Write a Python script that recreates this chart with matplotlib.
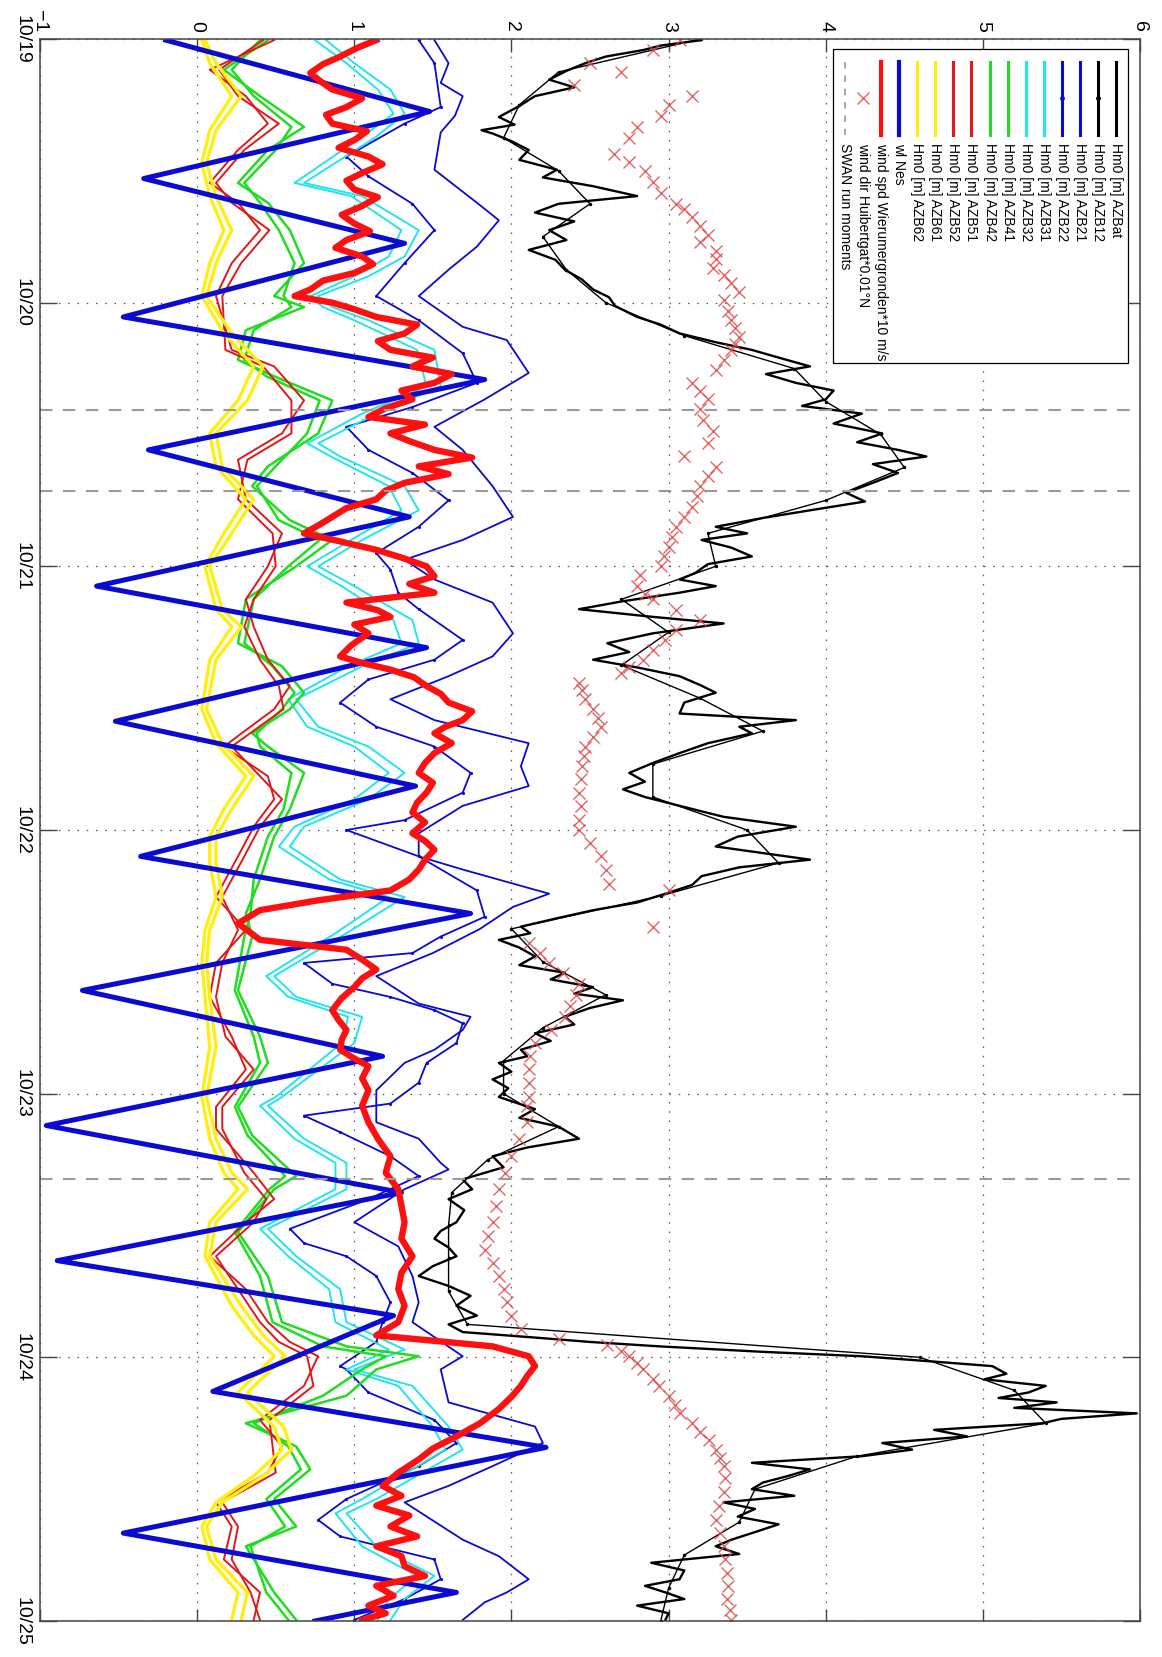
import numpy as np
import matplotlib.pyplot as plt
from matplotlib.patches import Rectangle

plt.rcParams['font.family'] = ['Liberation Sans', 'DejaVu Sans']

# time is in hours after 10/19 00:00, plotted in days; the chart is drawn rotated
date_labels = ['10/19', '10/20', '10/21', '10/22', '10/23', '10/24', '10/25']
value_ticks = [-1, 0, 1, 2, 3, 4, 5, 6]
value_labels = ['\u22121', '0', '1', '2', '3', '4', '5', '6']

swan_hours = [33.8, 41.1, 103.8]

# Hm0 [m] AZBat
azbat_h = [0.1, 0.6, 1.0, 1.6, 2.2, 2.9, 3.7, 4.4, 5.2, 6.1, 7.1, 7.8, 8.3, 8.6, 9.3, 10.1, 11.0, 11.9, 12.6, 13.4,
           14.3, 15.0, 15.8, 16.6, 17.4, 18.3, 19.2, 20.1, 21.0, 21.9, 22.8, 23.5, 24.3,
           25.3, 26.0, 26.8, 27.6, 28.3, 29.0, 29.8, 30.5, 31.3, 32.0, 32.8, 33.4, 34.1, 35.0, 35.9, 36.7, 37.4,
           38.0, 38.7, 39.5, 40.4, 41.3, 42.1, 42.9, 43.6, 44.4, 45.0, 45.6, 46.3, 47.1, 47.8,
           48.6, 49.2, 49.8, 50.4, 51.2, 51.9, 52.6, 53.2, 54.1, 55.0, 55.8, 56.5, 57.2, 58.0, 58.8, 59.5, 60.4,
           61.4, 62.0, 62.6, 63.2, 64.1, 65.0, 65.9, 66.8, 67.6, 68.3, 69.0, 69.8, 70.8, 71.7,
           72.6, 73.5, 74.1, 74.7, 75.4, 76.2, 77.0, 77.8, 78.6, 79.3, 80.0, 80.8, 81.4, 82.0, 82.7, 83.5, 84.3,
           85.0, 85.6, 86.3, 86.9, 87.5, 88.2, 89.0, 89.7, 90.5, 91.2, 92.0, 92.6, 93.2, 94.0, 94.7, 95.5, 96.3,
           97.4, 98.2, 99.0, 100.1, 100.9, 101.7, 102.7, 103.8, 104.7, 105.6, 106.6, 107.7, 108.5, 109.2, 110.0,
           110.8, 111.7, 112.6, 113.5, 114.4, 115.3, 116.2, 117.0, 117.7, 118.2, 118.6, 119.0, 119.5, 119.9,
           120.4, 120.8,
           121.5, 122.0, 122.6, 123.2, 123.7, 124.1, 124.6, 125.1, 125.6, 126.0, 126.6, 127.2, 127.8, 128.4,
           129.0, 129.6, 130.2, 130.8, 131.4, 132.0, 132.6, 133.2, 133.8, 134.5, 135.2, 136.0, 136.6, 137.2,
           137.9, 138.7, 139.4, 140.2, 140.8, 141.4, 142.0, 142.6, 143.3, 143.9]
azbat = [3.21, 2.95, 2.84, 2.60, 2.47, 2.35, 2.24, 2.40, 2.15, 2.05, 1.92, 2.02, 1.81, 1.88, 2.00, 2.11, 2.05, 2.29,
         2.20, 2.52, 2.80, 2.30, 2.15, 2.40, 2.24, 2.35, 2.11, 2.28, 2.34, 2.45, 2.52, 2.62, 2.66,
         2.80, 2.95, 3.07, 3.30, 3.53, 3.70, 3.90, 3.62, 3.81, 4.05, 4.00, 3.85, 4.23, 4.05, 4.36, 4.20, 4.46,
         4.64, 4.30, 4.46, 4.30, 4.13, 4.25, 3.90, 3.60, 3.30, 3.50, 3.21, 3.40, 3.53, 3.25,
         3.17, 3.07, 3.30, 3.07, 2.70, 2.43, 2.90, 3.35, 2.90, 2.61, 2.75, 2.52, 2.80, 3.07, 3.20, 3.30, 3.10,
         3.07, 3.81, 3.45, 3.53, 3.25, 3.07, 2.90, 2.75, 2.85, 2.71, 2.85, 3.07, 3.35, 3.81,
         3.44, 3.30, 3.60, 3.90, 3.45, 3.21, 3.15, 2.98, 2.80, 2.52, 2.30, 2.06, 2.12, 1.92, 2.05, 2.15, 2.05,
         2.34, 2.25, 2.52, 2.40, 2.71, 2.50, 2.34, 2.40, 2.15, 2.25, 2.06, 2.10, 1.92, 2.00, 1.88, 1.98, 1.92,
         2.15, 2.05, 2.30, 2.43, 2.10, 1.88, 1.95, 1.69, 1.75, 1.60, 1.70, 1.65, 1.55, 1.51, 1.60,
         1.65, 1.50, 1.41, 1.60, 1.74, 1.65, 1.78, 1.60, 1.69, 2.15, 2.50, 2.94, 3.60, 4.23,
         4.70, 5.06,
         5.15, 5.01, 5.40, 5.29, 5.10, 5.47, 5.20, 5.98, 5.50, 5.38, 4.69, 4.90, 4.36, 4.55,
         4.23, 3.53, 3.90, 3.76, 3.60, 3.53, 3.80, 3.35, 3.55, 3.44, 3.70, 3.53, 3.40, 3.30,
         3.45, 2.89, 3.10, 3.07, 2.85, 2.98, 3.10, 2.80, 3.00, 2.98]

# Hm0 [m] AZB12
azb12_h = list(range(0, 145, 3))
azb12 = [3.20, 2.30, 2.05, 1.95, 2.30, 2.50, 2.20, 2.35, 2.60, 3.10, 3.80, 4.00, 4.35, 4.50, 4.00, 3.25, 3.30,
         2.70, 3.00, 2.70, 3.20, 3.60, 2.90, 2.90, 3.50, 3.70, 2.95, 2.00, 2.20, 2.60, 2.20, 1.95, 1.95, 2.30,
         1.85, 1.62, 1.60, 1.60, 1.60, 1.72, 4.60, 5.20, 5.40, 4.20, 3.55, 3.45, 3.10, 3.00, 2.95]

# Hm0 [m] AZB21
azb21_h = [0.1, 2.2, 4.0, 5.2, 7.0, 8.5, 11.9, 14.9, 16.5, 18.9, 21.0, 23.4,
           26.2, 27.4, 30.4, 32.8, 35.3, 37.4, 40.7, 43.5, 45.6, 47.4,
           49.2, 51.3, 54.1, 56.2, 58.0, 60.1, 62.0, 64.1, 66.2, 68.0, 69.8, 72.3,
           74.4, 75.6, 77.8, 79.0, 81.0, 83.2, 85.3, 87.8, 89.0, 90.2, 92.0, 93.2, 95.7,
           98.6, 100.1, 102.3, 102.9, 104.7, 107.7, 109.9, 112.6, 115.0, 116.8, 119.9,
           121.1, 124.1, 126.3, 127.8, 129.9, 131.7, 133.2, 136.6, 138.1, 140.2, 141.4, 142.3, 143.9]
azb21 = [1.51, 1.60, 1.55, 1.69, 1.64, 1.55, 1.51, 1.78, 1.92, 1.78, 1.60, 1.41,
         1.69, 1.97, 2.11, 1.83, 1.51, 1.69, 1.88, 2.01, 1.69, 1.32,
         1.51, 1.88, 2.01, 1.88, 1.60, 1.23, 1.51, 2.11, 2.06, 2.11, 1.69, 1.41,
         1.41, 1.69, 2.24, 2.01, 1.80, 1.50, 1.14, 1.41, 1.74, 1.69, 1.51, 1.32, 1.14,
         1.14, 1.41, 1.55, 1.60, 1.32, 1.00, 1.28, 1.37, 1.41, 1.37, 1.69,
         1.55, 1.60, 2.15, 2.20, 1.88, 1.60, 1.32, 1.69, 1.92, 2.11, 1.97, 1.83, 1.69]

# Hm0 [m] AZB22
azb22_h = [0.1, 2.2, 6.2, 7.7, 10.7, 12.5, 15.0, 17.4, 20.4, 23.4,
           25.6, 28.6, 31.3, 33.5, 35.3, 37.4, 39.5, 42.0, 44.4, 46.8,
           48.3, 50.4, 51.9, 54.7, 56.5, 58.3, 60.4, 62.6, 64.4, 66.8, 68.6, 71.1,
           72.0, 74.4, 77.5, 79.9, 81.7, 83.2, 84.1, 86.0, 87.2, 88.4, 89.6, 91.4, 93.2, 95.0, 96.9,
           98.0, 99.5, 101.7, 103.5, 105.6, 108.3, 109.6, 110.8, 112.6, 115.0, 116.8, 118.6, 120.8,
           121.1, 123.2, 125.7, 127.8, 129.9, 132.9, 134.8, 136.3, 138.4, 140.2, 142.0, 143.9]
azb22 = [1.41, 1.51, 1.55, 1.32, 0.95, 1.09, 1.37, 1.51, 1.32, 1.14,
         1.41, 1.69, 1.78, 1.37, 0.95, 1.09, 1.37, 1.60, 1.41, 1.14,
         1.23, 1.28, 1.41, 1.69, 1.51, 1.09, 0.91, 1.14, 1.51, 1.74, 1.69, 1.32,
         0.95, 1.41, 1.78, 1.83, 1.55, 1.37, 0.68, 0.86, 1.23, 1.51, 1.69, 1.65, 1.46, 1.41, 1.23,
         0.68, 0.91, 1.23, 1.41, 1.09, 0.59, 0.68, 0.95, 1.14, 1.23, 1.18, 1.14, 0.91,
         0.95, 1.09, 1.51, 1.65, 1.41, 0.95, 0.77, 0.91, 1.51, 1.55, 1.32, 1.00]

# Hm0 [m] AZB31 / AZB32
cyan_h = [0.1, 2.2, 4.6, 6.8, 8.9, 13.1, 14.3, 17.4, 19.8, 21.6, 23.4,
          24.4, 25.6, 28.3, 31.6, 34.1, 36.8, 38.0, 40.7, 42.9, 45.6, 48.0,
          49.8, 52.9, 55.0, 57.1, 60.1, 62.6, 64.4, 66.8, 69.2, 71.7,
          73.5, 76.5, 78.1, 81.4, 85.3, 87.2, 89.0, 91.4, 96.3,
          97.1, 100.1, 102.3, 104.7, 108.3, 110.8, 113.8, 116.8, 119.3,
          121.1, 122.6, 126.3, 128.4, 132.9, 134.2, 137.2, 139.9, 142.0, 143.9]
azb31 = [0.82, 1.00, 1.23, 1.32, 1.14, 0.68, 1.05, 1.41, 1.32, 1.09, 0.77,
         0.86, 1.09, 1.51, 1.55, 1.14, 0.77, 0.91, 1.32, 1.41, 1.05, 0.77,
         1.00, 1.37, 1.41, 1.05, 0.63, 0.77, 1.09, 1.32, 1.09, 0.68,
         0.59, 0.91, 1.32, 0.95, 0.49, 0.63, 1.05, 1.00, 0.54,
         0.45, 0.68, 0.95, 0.95, 0.45, 0.63, 0.91, 0.95, 1.32,
         1.00, 1.37, 1.60, 1.69, 1.14, 0.95, 1.14, 1.51, 1.32, 1.23]
azb32 = [0.75, 0.95, 1.15, 1.25, 1.05, 0.62, 0.98, 1.30, 1.22, 1.00, 0.72,
         0.80, 1.00, 1.40, 1.46, 1.05, 0.70, 0.85, 1.22, 1.30, 0.98, 0.70,
         0.92, 1.25, 1.30, 0.96, 0.58, 0.70, 1.00, 1.22, 1.00, 0.62,
         0.52, 0.84, 1.22, 0.88, 0.44, 0.58, 0.96, 0.92, 0.50,
         0.40, 0.62, 0.88, 0.88, 0.40, 0.58, 0.84, 0.88, 1.22,
         0.95, 1.28, 1.50, 1.58, 1.05, 0.88, 1.05, 1.40, 1.22, 1.15]

# Hm0 [m] AZB41 / AZB42
green_h = [0.1, 2.8, 5.2, 8.0, 10.1, 13.1, 14.9, 17.4, 20.4, 23.4,
           24.4, 26.5, 29.2, 30.7, 32.9, 35.9, 38.9, 40.7, 43.8, 45.6,
           48.0, 51.0, 55.0, 57.1, 59.5, 61.0, 63.2, 64.4, 66.8, 70.1, 72.6,
           76.5, 79.6, 81.7, 86.6, 90.8, 93.2, 97.2,
           99.8, 103.5, 104.7, 108.6, 112.6, 116.8, 119.0, 119.9,
           121.1, 123.5, 126.0, 128.1, 130.2, 132.9, 135.4, 137.2, 141.4, 143.9]
azb41 = [0.45, 0.17, 0.40, 0.68, 0.45, 0.26, 0.45, 0.59, 0.68, 0.49,
         0.68, 0.31, 0.26, 0.49, 0.86, 0.77, 0.45, 0.35, 0.59, 0.86,
         0.63, 0.31, 0.26, 0.54, 0.68, 0.59, 0.35, 0.45, 0.68, 0.59, 0.49,
         0.40, 0.31, 0.35, 0.26, 0.40, 0.45, 0.26,
         0.35, 0.63, 0.49, 0.26, 0.45, 0.54, 0.95, 1.41,
         1.14, 0.95, 0.31, 0.63, 0.72, 0.49, 0.63, 0.31, 0.49, 0.63]
azb42 = [0.40, 0.22, 0.36, 0.60, 0.50, 0.30, 0.40, 0.52, 0.62, 0.55,
         0.60, 0.36, 0.30, 0.44, 0.78, 0.70, 0.50, 0.38, 0.52, 0.78,
         0.58, 0.36, 0.30, 0.48, 0.62, 0.54, 0.38, 0.40, 0.60, 0.55, 0.45,
         0.36, 0.34, 0.30, 0.24, 0.36, 0.40, 0.24,
         0.32, 0.56, 0.46, 0.24, 0.40, 0.48, 0.80, 1.20,
         1.05, 0.80, 0.36, 0.58, 0.66, 0.44, 0.56, 0.34, 0.44, 0.58]

# Hm0 [m] AZB51 / AZB52
red_h = [0.1, 2.8, 5.2, 7.7, 10.1, 13.1, 14.9, 17.4, 20.4, 23.4,
         28.3, 29.8, 32.9, 35.9, 38.3, 41.9, 45.0, 48.0,
         51.0, 53.5, 56.5, 58.9, 61.0, 64.4, 67.1, 69.2, 71.7,
         74.4, 78.1, 81.1, 84.1, 87.2, 90.8, 93.8, 97.2,
         99.2, 103.2, 105.6, 107.7, 110.8, 113.8, 116.8, 118.6, 119.9,
         122.6, 125.7, 128.1, 130.5, 133.2, 135.4, 138.4, 141.4, 143.9]
azb51 = [0.49, 0.08, 0.31, 0.45, 0.26, 0.08, 0.26, 0.40, 0.22, 0.12,
         0.22, 0.49, 0.68, 0.54, 0.26, 0.31, 0.54, 0.45,
         0.31, 0.36, 0.45, 0.59, 0.49, 0.17, 0.45, 0.49, 0.36,
         0.26, 0.12, 0.31, 0.12, 0.08, 0.22, 0.31, 0.12,
         0.12, 0.36, 0.49, 0.31, 0.08, 0.31, 0.45, 0.59, 0.77,
         0.68, 0.40, 0.54, 0.45, 0.12, 0.22, 0.17, 0.40, 0.36]
azb52 = [0.42, 0.14, 0.26, 0.52, 0.30, 0.12, 0.22, 0.46, 0.28, 0.16,
         0.18, 0.42, 0.60, 0.60, 0.32, 0.26, 0.48, 0.50,
         0.36, 0.30, 0.40, 0.52, 0.55, 0.22, 0.40, 0.54, 0.40,
         0.30, 0.16, 0.26, 0.16, 0.12, 0.18, 0.36, 0.16,
         0.16, 0.30, 0.44, 0.36, 0.12, 0.26, 0.40, 0.52, 0.70,
         0.74, 0.46, 0.48, 0.50, 0.16, 0.26, 0.22, 0.34, 0.40]

# Hm0 [m] AZB61 / AZB62
yellow_h = [0.1, 2.2, 5.2, 8.3, 11.3, 14.3, 17.4, 20.4, 23.4,
            26.8, 29.8, 32.9, 35.9, 38.9, 41.9, 45.0, 48.0,
            51.9, 53.5, 56.5, 61.0, 64.1, 67.1, 70.1, 72.6,
            75.0, 78.1, 81.1, 84.1, 87.2, 91.7, 96.3,
            100.1, 103.2, 104.7, 107.7, 110.8, 115.3, 118.0, 119.9,
            123.2, 126.3, 128.4, 130.8, 133.2, 135.4, 138.4, 141.4, 143.9]
azb61 = [0.03, 0.08, 0.22, 0.08, 0.03, 0.08, 0.17, 0.08, 0.03,
         0.17, 0.36, 0.26, 0.08, 0.12, 0.31, 0.17, 0.05,
         0.12, 0.22, 0.08, 0.03, 0.12, 0.31, 0.17, 0.08,
         0.08, 0.12, 0.05, 0.03, 0.05, 0.08, 0.03,
         0.08, 0.17, 0.26, 0.08, 0.05, 0.22, 0.36, 0.49,
         0.26, 0.49, 0.54, 0.36, 0.12, 0.03, 0.08, 0.26, 0.22]
azb62 = [0.05, 0.12, 0.28, 0.12, 0.06, 0.12, 0.22, 0.12, 0.06,
         0.22, 0.42, 0.32, 0.12, 0.16, 0.36, 0.22, 0.08,
         0.16, 0.28, 0.12, 0.06, 0.16, 0.36, 0.22, 0.12,
         0.12, 0.16, 0.08, 0.06, 0.08, 0.12, 0.06,
         0.12, 0.22, 0.32, 0.12, 0.08, 0.28, 0.42, 0.56,
         0.32, 0.55, 0.60, 0.42, 0.16, 0.06, 0.12, 0.32, 0.28]

# wl Nes
wl_nes_h = [0.1, 6.6, 12.7, 18.6, 25.3, 31.0, 37.4, 43.5, 49.8, 55.4, 62.1, 68.0, 74.4, 79.6,
            86.6, 92.6, 98.9, 105.0, 111.2, 116.2, 123.1, 128.2, 136.0, 141.4, 144.0]
wl_nes = [-0.20, 1.48, -0.34, 1.32, -0.47, 1.83, -0.31, 1.35, -0.64, 1.46, -0.52, 1.39, -0.36, 1.74,
          -0.73, 1.18, -0.96, 1.30, -0.89, 1.25, 0.10, 2.22, -0.47, 1.65, 0.75]

# wind spd Wierumergronden
wind_spd_h = [0.1, 0.8, 1.6, 2.3, 3.1, 3.8, 4.6, 5.4, 6.2, 6.9, 7.7, 8.4, 9.2, 9.9, 10.7, 11.4, 12.2, 12.9, 13.7,
              14.4, 15.2, 16.0, 16.8, 17.5, 18.3, 19.0, 19.8, 20.5, 21.3, 22.0, 22.8, 23.4, 24.0,
              24.6, 25.3, 26.0, 26.8, 27.5, 28.3, 29.0, 29.8, 30.5, 31.3, 32.0, 32.8, 33.6, 34.4, 35.1, 35.9,
              36.6, 37.4, 38.1, 38.9, 39.6, 40.4, 41.1, 41.9, 42.7, 43.5, 44.2, 45.0, 45.7, 46.5, 47.2, 48.0,
              48.9, 49.6, 50.4, 51.3, 52.0, 52.6, 53.3, 54.1, 55.2, 56.2, 56.8, 57.4, 58.1, 58.9, 59.6, 60.4,
              61.2, 62.0, 62.6, 63.2, 64.1, 65.0, 65.9, 66.8, 67.7, 68.6, 69.5, 70.4, 71.3, 72.3,
              73.0, 73.8, 74.7, 75.6, 76.5, 77.5, 78.4, 79.3, 80.5, 82.0, 82.9, 83.8, 84.7, 85.5, 86.3, 87.3,
              88.4, 89.3, 90.2, 91.1, 92.0, 92.8, 93.5, 94.6, 95.7,
              97.1, 98.6, 100.1, 101.7, 103.2, 104.7, 106.2, 107.7, 109.2, 110.8, 112.3, 113.8, 115.3, 116.8,
              118.0, 119.0, 119.9, 120.8,
              121.7, 122.6, 123.6, 124.7, 126.0, 127.2, 128.3, 129.3, 130.5, 131.7, 132.6, 133.5, 134.4, 135.4,
              136.3, 137.2, 138.1, 139.0, 139.9, 140.8, 141.7, 142.6, 143.3, 143.9]
wind_spd = [1.14, 1.02, 0.91, 0.80, 0.72, 0.78, 0.86, 1.05, 0.95, 0.82, 0.86, 1.08, 1.00, 0.90, 1.09, 1.18, 1.05,
            0.95, 1.00, 1.15, 1.05, 0.92, 1.00, 1.10, 0.95, 0.88, 1.05, 1.12, 1.00, 0.80, 0.72, 0.62, 0.86,
            1.00, 1.14, 1.40, 1.32, 1.15, 1.23, 1.50, 1.37, 1.62, 1.51, 1.30, 1.37, 1.20, 1.09, 1.45, 1.23,
            1.35, 1.51, 1.75, 1.41, 1.60, 1.32, 1.20, 1.14, 0.95, 0.86, 0.78, 0.68, 0.90, 1.14, 1.30, 1.46,
            1.51, 1.35, 1.51, 0.95, 1.15, 1.23, 1.00, 1.09, 0.98, 0.91, 1.05, 1.23, 1.38, 1.46, 1.55, 1.60,
            1.75, 1.69, 1.58, 1.51, 1.62, 1.51, 1.45, 1.41, 1.50, 1.46, 1.40, 1.37, 1.45, 1.37,
            1.45, 1.51, 1.45, 1.41, 1.35, 1.23, 0.77, 0.40, 0.26, 0.40, 0.95, 1.05, 1.14, 1.05, 1.00, 0.92,
            0.86, 0.90, 0.95, 0.92, 0.91, 1.00, 1.09, 1.05, 1.09,
            1.05, 1.09, 1.15, 1.23, 1.20, 1.28, 1.30, 1.32, 1.30, 1.37, 1.30, 1.28, 1.32, 1.28,
            1.14, 1.88, 2.11, 2.15,
            2.10, 2.06, 2.00, 1.92, 1.80, 1.65, 1.50, 1.41, 1.28, 1.18, 1.30, 1.14, 1.35, 1.23,
            1.40, 1.14, 1.30, 1.32, 1.45, 1.14, 1.25, 1.09, 1.20, 1.05]

# wind dir Huibertgat * 0.01 degN
wind_dir_h = [0.1, 1.0, 2.2, 3.0, 4.2, 5.2, 6.0, 7.0, 8.0, 9.0, 10.5, 11.2, 12.0, 13.0, 14.0, 15.0, 15.5, 16.2,
              17.0, 17.8, 18.5, 19.3, 20.0, 20.8, 21.5, 22.2, 23.0,
              23.8, 24.8, 25.6, 26.3, 27.1, 27.8, 28.3, 29.2, 30.1, 31.3, 32.0, 32.8, 33.7, 34.7, 35.7, 36.8,
              38.0, 39.0, 39.8, 40.7, 41.6, 42.6, 43.5, 44.4, 45.3, 46.2, 47.1, 48.0,
              48.8, 49.8, 50.5, 51.0, 52.0, 52.9, 53.8, 54.7, 55.6, 56.5, 57.2, 57.7, 58.6, 59.3, 60.1, 61.0,
              61.8, 62.6, 63.5, 64.4, 65.3, 66.2, 67.4, 68.6, 69.8, 71.1,
              72.0, 73.2, 74.4, 75.6, 76.9, 77.5, 80.8, 82.3, 83.2, 84.1, 85.0, 86.0, 87.0, 88.0, 89.0, 90.2,
              91.4, 92.6, 93.8, 95.0, 96.3,
              97.1, 98.6, 100.1, 101.7, 103.2, 104.7, 106.2, 107.7, 109.0, 110.2, 111.4, 112.6, 113.8, 115.0,
              116.2, 117.4, 118.3, 118.9, 119.4, 119.9, 120.5,
              121.1, 122.0, 122.6, 123.5, 124.3, 125.1, 126.0, 126.8, 127.5, 128.4, 129.2, 129.9, 131.0, 132.3,
              133.5, 134.8, 136.0, 137.2, 138.4, 139.6, 140.8, 142.0, 143.0, 143.9]
wind_dir = [3.07, 2.90, 2.50, 2.70, 2.40, 3.15, 3.00, 2.95, 2.80, 2.75, 2.65, 2.75, 2.85, 2.90, 2.95, 3.05, 3.10,
            3.15, 3.20, 3.25, 3.20, 3.30, 3.30, 3.28, 3.35, 3.40, 3.45,
            3.35, 3.38, 3.40, 3.42, 3.45, 3.42, 3.40, 3.35, 3.30, 3.15, 3.20, 3.25, 3.20, 3.22, 3.28, 3.25,
            3.10, 3.30, 3.25, 3.20, 3.18, 3.15, 3.10, 3.05, 3.02, 3.00, 2.97, 2.95,
            2.82, 2.80, 2.85, 2.90, 3.05, 3.20, 3.05, 2.98, 2.90, 2.84, 2.75, 2.70, 2.43, 2.45, 2.47, 2.52,
            2.55, 2.57, 2.52, 2.47, 2.46, 2.45, 2.44, 2.43, 2.44, 2.43,
            2.43, 2.50, 2.57, 2.60, 2.62, 3.00, 2.90, 2.11, 2.18, 2.24, 2.33, 2.43, 2.41, 2.37, 2.34, 2.25,
            2.15, 2.12, 2.11, 2.11, 2.11,
            2.10, 2.10, 2.05, 2.00, 1.96, 1.92, 1.90, 1.88, 1.85, 1.83, 1.88, 1.92, 1.95, 1.97,
            2.00, 2.06, 2.30, 2.61, 2.70, 2.75, 2.80,
            2.84, 2.90, 2.94, 3.00, 3.04, 3.07, 3.15, 3.20, 3.26, 3.30, 3.33, 3.35, 3.36, 3.35,
            3.32, 3.30, 3.33, 3.35, 3.36, 3.37, 3.38, 3.37, 3.39, 3.40]

BLUE = '#0a0ad0'
CYAN = '#20e4f0'
GREEN = '#20dd20'
RED = '#e01818'
YELLOW = '#ffee10'
XRED = '#e04848'

fig = plt.figure(figsize=(11.62, 16.57), dpi=100)
ax = fig.add_axes([40 / 1162, 36 / 1657, 1100 / 1162, 1582 / 1657])


def draw(hours, values, **kw):
    ax.plot(values, np.array(hours) / 24.0, **kw)


draw(azbat_h, azbat, color='black', lw=1.7)
draw(azb12_h, azb12, color='black', lw=1.0, marker='.', ms=3)
draw(azb21_h, azb21, color=BLUE, lw=1.3)
draw(azb22_h, azb22, color=BLUE, lw=1.3, marker='.', ms=2.5)
draw(cyan_h, azb31, color=CYAN, lw=1.4)
draw(cyan_h, azb32, color=CYAN, lw=1.4)
draw(green_h, azb41, color=GREEN, lw=1.8)
draw(green_h, azb42, color=GREEN, lw=1.8)
draw(red_h, azb51, color=RED, lw=1.4)
draw(red_h, azb52, color=RED, lw=1.4)
draw(yellow_h, azb61, color=YELLOW, lw=2.4)
draw(yellow_h, azb62, color=YELLOW, lw=2.4)
draw(wl_nes_h, wl_nes, color=BLUE, lw=3.6)
draw(wind_spd_h, wind_spd, color='#ff1010', lw=4.6)
draw(wind_dir_h, wind_dir, color=XRED, ls='none', marker='x', ms=8, mew=1.0, alpha=0.85)
for h in swan_hours:
    ax.axhline(h / 24.0, color='#9a9a9a', lw=1.5, dashes=(6, 5))

ax.set_xlim(-1, 6)
ax.set_ylim(6, 0)
ax.set_xticks(value_ticks)
ax.set_xticklabels(value_labels, rotation=-90)
ax.set_yticks(range(len(date_labels)))
ax.set_yticklabels(date_labels, rotation=-90, va='center')
ax.tick_params(axis='x', top=True, bottom=True, labeltop=True, labelbottom=False,
               direction='in', length=9, width=1, color='#444444', labelsize=14, pad=5)
ax.tick_params(axis='y', left=True, right=True, direction='in', length=12, width=1,
               color='#444444', labelsize=14, pad=7)
ax.grid(True, color='#555555', lw=0.9, linestyle=(0, (1.2, 6.2)))
ax.set_axisbelow(True)
for s in ax.spines.values():
    s.set_color('#444444')
    s.set_linewidth(1.1)

# legend, drawn rotated like the rest of the chart
legend_entries = [
    ('Hm0 [m] AZBat', dict(color='black', lw=2.2), None),
    ('Hm0 [m] AZB12', dict(color='black', lw=2.2), '.'),
    ('Hm0 [m] AZB21', dict(color=BLUE, lw=2.2), None),
    ('Hm0 [m] AZB22', dict(color=BLUE, lw=2.2), '.'),
    ('Hm0 [m] AZB31', dict(color=CYAN, lw=2.2), None),
    ('Hm0 [m] AZB32', dict(color=CYAN, lw=2.2), None),
    ('Hm0 [m] AZB41', dict(color=GREEN, lw=2.2), None),
    ('Hm0 [m] AZB42', dict(color=GREEN, lw=2.2), None),
    ('Hm0 [m] AZB51', dict(color=RED, lw=2.2), None),
    ('Hm0 [m] AZB52', dict(color=RED, lw=2.2), None),
    ('Hm0 [m] AZB61', dict(color=YELLOW, lw=2.2), None),
    ('Hm0 [m] AZB62', dict(color=YELLOW, lw=2.2), None),
    ('wl Nes', dict(color=BLUE, lw=3.0), None),
    ('wind spd Wierumergronden*10 m/s', dict(color='#ff1010', lw=3.0), None),
    ('wind dir Huibertgat*0.01\u00b0N', None, 'x'),
    ('SWAN run moments', dict(color='#9a9a9a', lw=1.2, dashes=(4, 4)), None),
]
tr = ax.transAxes
ax.add_patch(Rectangle((0.7209, 0.7952), 0.2682, 0.1985, transform=tr, facecolor='white',
                       edgecolor='black', lw=0.9, zorder=10))
y_top, y_bot, y_txt = 0.9855, 0.9393, 0.9340
for i, (label, style, mk) in enumerate(legend_entries):
    x = 0.9782 - i * 0.01643
    if style is not None:
        ax.plot([x, x], [y_top, y_bot], transform=tr, zorder=11, clip_on=False, **style)
    if mk == '.':
        ax.plot([x], [(y_top + y_bot) / 2], transform=tr, zorder=12, marker='.', ms=5,
                color=style['color'])
    elif mk == 'x':
        ax.plot([x], [(y_top + y_bot) / 2], transform=tr, zorder=12, marker='x', ms=8,
                mew=1.0, color=XRED, alpha=0.85)
    ax.text(x, y_txt, label, transform=tr, rotation=-90, rotation_mode='anchor',
            ha='left', va='center', fontsize=10.0, zorder=12)

fig.savefig('out.png', dpi=100, facecolor='white')
